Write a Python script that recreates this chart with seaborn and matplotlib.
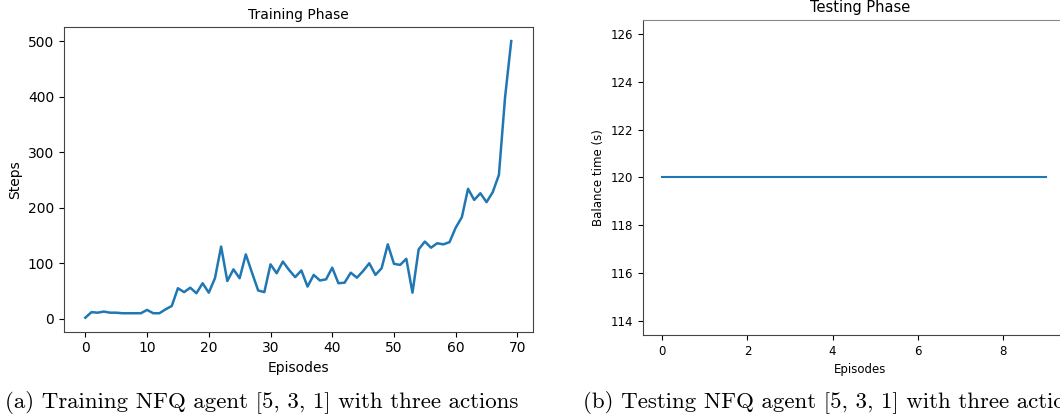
import matplotlib
matplotlib.use("Agg")
import matplotlib.pyplot as plt
import seaborn as sns

# Training phase: steps per episode
train_episodes = list(range(70))
train_steps = [2, 12, 11, 13, 11, 11, 10, 10, 10, 10,
               16, 10, 10, 17, 23, 55, 48, 56, 46, 64,
               47, 73, 130, 68, 89, 73, 116, 83, 51, 48,
               98, 82, 103, 88, 75, 87, 58, 79, 69, 71,
               92, 64, 65, 83, 74, 86, 100, 79, 91, 134,
               99, 97, 108, 47, 125, 139, 128, 136, 134, 138,
               164, 183, 234, 214, 226, 210, 228, 259, 399, 500]

# Testing phase: balance time per episode
test_episodes = list(range(10))
test_balance = [120] * 10

line_color = "#1f77b4"

fig = plt.figure(figsize=(10.6, 4.18), dpi=100)

# Training plot
ax1 = fig.add_axes([0.0604, 0.2069, 0.442, 0.728])
sns.lineplot(x=train_episodes, y=train_steps, ax=ax1, color=line_color, linewidth=1.8)
ax1.set_title("Training Phase", fontsize=10)
ax1.set_xlabel("Episodes", fontsize=10)
ax1.set_ylabel("Steps", fontsize=10)
ax1.set_xticks(range(0, 71, 10))
ax1.set_yticks(range(0, 501, 100))
ax1.tick_params(labelsize=10)
for s in ax1.spines.values():
    s.set_color("#444444")

# Testing plot: the original figure is cropped at the right edge,
# so the axes run past the canvas (right spine hidden off-page)
ax2 = fig.add_axes([0.6066, 0.1986, 0.41, 0.7536])
sns.lineplot(x=test_episodes, y=test_balance, ax=ax2, color=line_color, linewidth=1.5)
ax2.set_ylim(113.4, 126.6)
ax2.set_xlim(-0.45, 9.75)
ax2.set_yticks(range(114, 127, 2))
ax2.set_xticks(range(0, 9, 2))
ax2.set_title("Testing Phase", fontsize=10.5)
ax2.set_xlabel("Episodes", fontsize=8.5)
ax2.set_ylabel("Balance time (s)", fontsize=8.5)
ax2.tick_params(labelsize=8.5)
for s in ax2.spines.values():
    s.set_color("#444444")
ax2.spines["top"].set_color("#888888")

# Captions
fig.text(0.005, 0.036, "(a) Training NFQ agent [5, 3, 1] with three actions",
         fontsize=16.5, family="cmr10", ha="left", va="center")
fig.text(0.55, 0.036, "(b) Testing NFQ agent [5, 3, 1] with three actions",
         fontsize=16.5, family="cmr10", ha="left", va="center")

fig.savefig("out.png", dpi=100)
